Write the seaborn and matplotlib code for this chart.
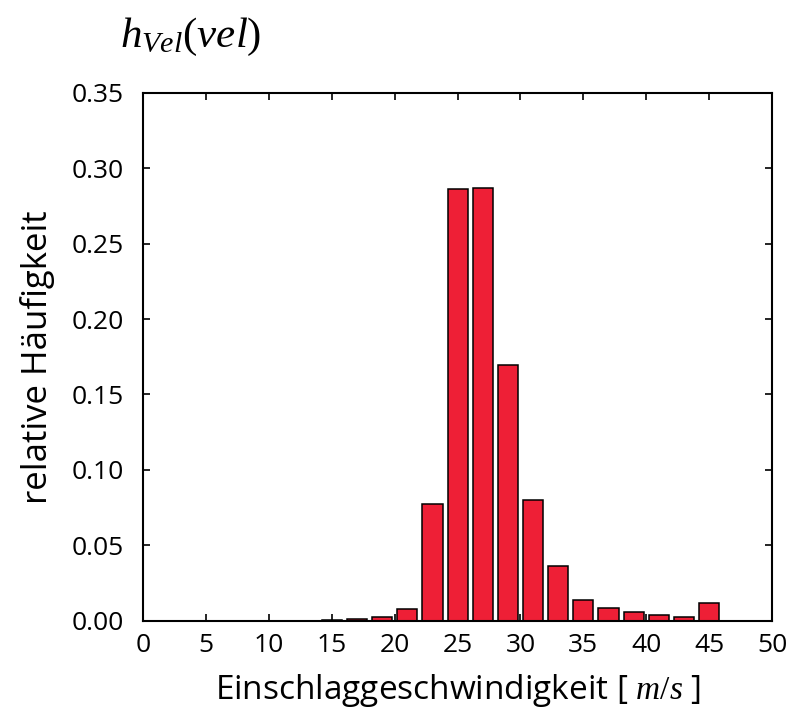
import matplotlib
matplotlib.use("Agg")
import matplotlib.pyplot as plt
import seaborn as sns
import pandas as pd

# Data
bin_centers = [1, 3, 5, 7, 9, 11, 13, 15, 17, 19, 21, 23, 25, 27, 29, 31, 33, 35, 37, 39, 41, 43, 45, 47, 49]
rel_freq = [0.0, 0.0, 0.0, 0.0, 0.0, 0.0, 0.0, 0.0003, 0.0008, 0.0022, 0.0078, 0.0775, 0.2863, 0.2872,
            0.1694, 0.0799, 0.0365, 0.0135, 0.0085, 0.0057, 0.0035, 0.0022, 0.0118, 0.0, 0.0]
x_ticks = [0, 5, 10, 15, 20, 25, 30, 35, 40, 45, 50]
y_ticks = [0.00, 0.05, 0.10, 0.15, 0.20, 0.25, 0.30, 0.35]

sns.set_theme(style="white")
plt.rcParams['font.family'] = ['Open Sans', 'DejaVu Sans']
plt.rcParams['mathtext.fontset'] = 'custom'
plt.rcParams['mathtext.rm'] = 'Liberation Serif'
plt.rcParams['mathtext.it'] = 'Liberation Serif:italic'
plt.rcParams['text.color'] = 'black'
plt.rcParams['axes.labelcolor'] = 'black'
plt.rcParams['xtick.color'] = 'black'
plt.rcParams['ytick.color'] = 'black'

df = pd.DataFrame({"v": bin_centers, "h": rel_freq})

fig = plt.figure(figsize=(8, 7.15), dpi=100)
ax = fig.add_axes([0.179, 0.132, 0.786, 0.738])

sns.barplot(data=df, x="v", y="h", native_scale=True, width=0.8,
            color="#EE1F36", saturation=1, edgecolor="black", linewidth=1.1, ax=ax)

ax.set_xlim(0, 50)
ax.set_ylim(0, 0.35)
ax.set_xticks(x_ticks)
ax.set_yticks(y_ticks)
ax.set_xticklabels([str(t) for t in x_ticks])
ax.set_yticklabels([f"{t:.2f}" for t in y_ticks])
ax.tick_params(direction="in", length=5, width=1.2, colors="black",
               top=True, right=True, bottom=True, left=True, labelsize=19)
ax.tick_params(axis="y", pad=14)
ax.tick_params(axis="x", pad=9)
for s in ax.spines.values():
    s.set_color("black")
    s.set_linewidth(1.5)

ax.set_xlabel(r"Einschlaggeschwindigkeit [ $m/s$ ]", fontsize=24, labelpad=10)
ax.set_ylabel("relative Häufigkeit", fontsize=25, labelpad=12)
fig.text(0.15, 0.95, r"$h_{Vel}(vel)$", fontsize=31, ha="left", va="center")

fig.savefig("out.png", dpi=100)
